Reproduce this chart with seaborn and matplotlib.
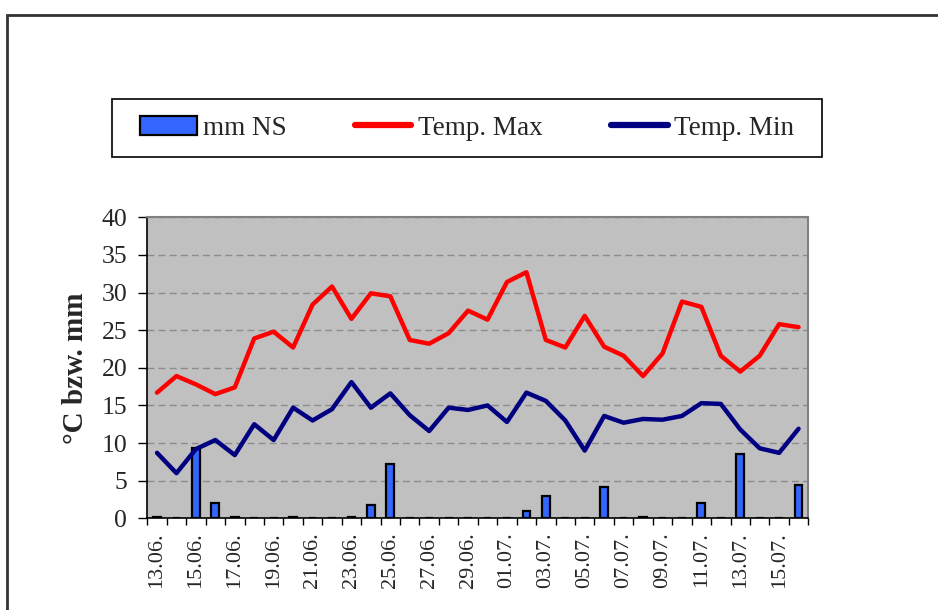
import numpy as np
import matplotlib
matplotlib.use("Agg")
import matplotlib.pyplot as plt
import seaborn as sns
from matplotlib.patches import Rectangle, Patch
from matplotlib.lines import Line2D

# --- DATA ---
dates = ["13.06.", "14.06.", "15.06.", "16.06.", "17.06.", "18.06.", "19.06.",
         "20.06.", "21.06.", "22.06.", "23.06.", "24.06.", "25.06.", "26.06.",
         "27.06.", "28.06.", "29.06.", "30.06.", "01.07.", "02.07.", "03.07.",
         "04.07.", "05.07.", "06.07.", "07.07.", "08.07.", "09.07.", "10.07.",
         "11.07.", "12.07.", "13.07.", "14.07.", "15.07.", "16.07."]
rain = [0.2, 0, 9.4, 2.0, 0.2, 0, 0, 0.2, 0, 0, 0.2, 1.8, 7.2, 0, 0, 0, 0,
        0, 0, 1.0, 3.0, 0, 0, 4.2, 0, 0.2, 0, 0, 2.0, 0, 8.6, 0, 0, 4.4]
t_max = [16.7, 18.9, 17.8, 16.5, 17.4, 23.9, 24.8, 22.7, 28.4, 30.8, 26.5,
         29.9, 29.5, 23.7, 23.2, 24.6, 27.6, 26.4, 31.4, 32.7, 23.7, 22.7,
         26.9, 22.8, 21.6, 18.9, 21.9, 28.8, 28.1, 21.6, 19.5, 21.6, 25.8, 25.4]
t_min = [8.7, 6.0, 9.2, 10.4, 8.4, 12.5, 10.4, 14.7, 13.0, 14.5, 18.1, 14.7,
         16.6, 13.7, 11.6, 14.7, 14.4, 15.0, 12.8, 16.7, 15.6, 13.0, 9.0, 13.6,
         12.7, 13.2, 13.1, 13.6, 15.3, 15.2, 11.8, 9.3, 8.7, 11.9]
y_ticks = [0, 5, 10, 15, 20, 25, 30, 35, 40]
series_names = ["mm NS", "Temp. Max", "Temp. Min"]

BAR_COLOR = "#3366FF"
MAX_COLOR = "#FF0000"
MIN_COLOR = "#000080"

# --- STYLE ---
sns.set_style("ticks")
plt.rcParams['font.family'] = ['Liberation Serif', 'DejaVu Serif']

W, H = 938, 610
fig = plt.figure(figsize=(W / 100, H / 100), dpi=100)
ax = fig.add_axes([147.3 / W, 1 - 518.3 / H, (808.3 - 147.3) / W, (518.3 - 217.3) / H])
ax.set_facecolor("#C0C0C0")

n = len(dates)
idx = np.arange(n)

# --- PLOT ---
sns.barplot(x=dates, y=rain, color=BAR_COLOR, saturation=1, width=0.4,
            edgecolor="black", linewidth=1.6, ax=ax, zorder=3)
sns.lineplot(x=idx, y=t_max, color=MAX_COLOR, linewidth=3.2, sort=False, ax=ax, zorder=4)
sns.lineplot(x=idx, y=t_min, color=MIN_COLOR, linewidth=3.2, sort=False, ax=ax, zorder=4)

# axes
ax.set_xlim(-0.5, n - 0.5)
ax.set_ylim(0, 40)
ax.set_yticks(y_ticks)
ax.set_yticklabels([str(v) for v in y_ticks], fontsize=18.5)
ax.set_xticks(idx[::2])
ax.set_xticklabels(dates[::2], rotation=90, fontsize=16, va="top")
ax.set_xticks(np.arange(-0.5, n, 1), minor=True)
ax.tick_params(axis="x", which="major", length=0, pad=10)
ax.tick_params(axis="x", which="minor", length=5, width=1, color="black", direction="out")
ax.tick_params(axis="y", which="major", length=6.5, width=1, color="black", direction="out", pad=8)
ax.set_xlabel("")
ax.set_ylabel("°C bzw. mm", fontsize=21, fontweight="bold", labelpad=9)

ax.yaxis.grid(True, color="#8c8c8c", linestyle=(0, (5, 3)), linewidth=1)
ax.set_axisbelow(True)
for side in ["left", "bottom"]:
    ax.spines[side].set_color("black")
    ax.spines[side].set_linewidth(1.2)
for side in ["top", "right"]:
    ax.spines[side].set_visible(True)
    ax.spines[side].set_color("#808080")
    ax.spines[side].set_linewidth(1.5)

# --- OUTER CHART BORDER (cropped at right and bottom) ---
top = 1 - 15 / H
fig.add_artist(Rectangle((7 / W, -0.5), 2, top + 0.5, transform=fig.transFigure,
                         fill=False, edgecolor="#333333", linewidth=2, clip_on=False))

# --- LEGEND ---
box = (112 / W, 1 - 157 / H, 710 / W, 58 / H)
fig.add_artist(Rectangle(box[:2], box[2], box[3], transform=fig.transFigure,
                         facecolor="white", edgecolor="black", linewidth=1.2, zorder=0))
handles = [Patch(facecolor=BAR_COLOR, edgecolor="black", linewidth=1.6),
           Line2D([0], [0], color=MAX_COLOR, linewidth=4.5),
           Line2D([0], [0], color=MIN_COLOR, linewidth=4.5)]
fig.legend(handles, series_names, loc="center",
           bbox_to_anchor=(box[0] + box[2] / 2, box[1] + box[3] / 2),
           bbox_transform=fig.transFigure, ncol=3, frameon=False, fontsize=19.5,
           handlelength=2.1, handleheight=0.7, handletextpad=0.25, columnspacing=2.5)

plt.savefig("out.png", dpi=100)
